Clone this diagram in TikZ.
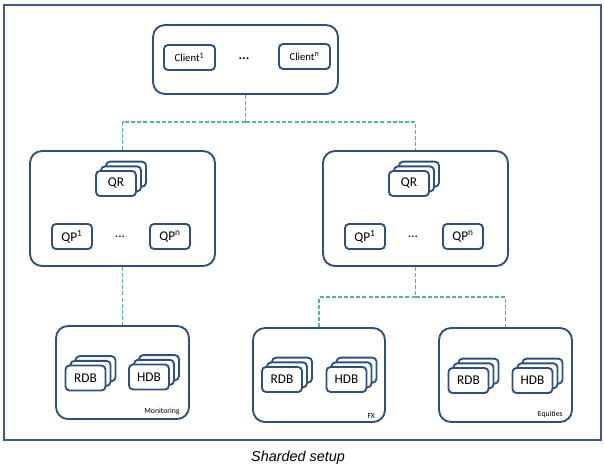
\documentclass[tikz,border=0pt]{standalone}
\usepackage{fontspec}
\setmainfont{Carlito}
\newfontfamily\capfont{Liberation Sans}
\usepackage{tikz}
\usetikzlibrary{shadows, positioning}
\definecolor{boxblue}{RGB}{47,80,125}
\definecolor{framecol}{RGB}{62,90,132}
\definecolor{linkgreen}{RGB}{84,186,140}
\tikzset{
    group/.style={rectangle, rounded corners=9pt, draw=boxblue, line width=1.4pt, fill=white},
    unit/.style={rectangle, rounded corners=3pt, draw=boxblue, line width=1.4pt, fill=white, minimum width=30pt, minimum height=18.75pt, inner sep=0pt, font=\fontsize{10}{11}\selectfont},
    stack/.style={unit,
        copy shadow={shadow xshift=7.5pt, shadow yshift=7pt, draw=boxblue, fill=white, line width=1.4pt},
        copy shadow={shadow xshift=3.75pt, shadow yshift=3.5pt, draw=boxblue, fill=white, line width=1.4pt}},
    client/.style={unit, minimum width=38.25pt, font=\fontsize{8}{9}\selectfont},
    dots/.style={font=\fontsize{10}{11}\selectfont, inner sep=0pt},
    tag/.style={font=\fontsize{5.8}{6}\selectfont, inner sep=0pt},
    link/.style={draw=linkgreen, line width=0.9pt, dash pattern=on 3pt off 1.6pt}
}

\begin{document}
\begin{tikzpicture}[x=0.75pt, y=-0.75pt]
            \useasboundingbox (0,0) rectangle (604,469);
            \draw[framecol, line width=1.5pt] (4,5) rectangle (601,440);

            \node (clients) [group, minimum width=138.75pt, minimum height=51.75pt] at (245.5,59.5) {};
            \node (cl1) [client] at (189.5,57.5) {Client\textsuperscript{1}};
            \node (cln) [client] at (304.5,56.5) {Client\textsuperscript{n}};
            \node (cdots) [dots] at (244,59) {\textbf{...}};

            \node (shardl) [group, minimum width=138.75pt, minimum height=86.25pt] at (122.5,208.5) {};
            \node (qrl) [stack] at (116,183.5) {QR};
            \node (qpl1) [unit] at (72,236.5) {QP\textsuperscript{1}};
            \node (qpln) [unit] at (170,236.5) {QP\textsuperscript{n}};
            \node (qpldots) [dots] at (120,237) {...};

            \node (shardr) [group, minimum width=138.75pt, minimum height=86.25pt] at (415.5,208.5) {};
            \node (qrr) [stack] at (409,183.5) {QR};
            \node (qpr1) [unit] at (365,236.5) {QP\textsuperscript{1}};
            \node (qprn) [unit] at (463,236.5) {QP\textsuperscript{n}};
            \node (qprdots) [dots] at (413,237) {...};

            \node (mon) [group, minimum width=99.75pt, minimum height=69.75pt] at (122.5,372.5) {};
            \node (monrdb) [stack] at (85.5,378) {RDB};
            \node (monhdb) [stack] at (149,377) {HDB};
            \node (montag) [tag, above left=3.5pt and 7.5pt of mon.south east] {Monitoring};

            \node (fx) [group, minimum width=99pt, minimum height=70.5pt] at (319,375) {};
            \node (fxrdb) [stack] at (282,379.5) {RDB};
            \node (fxhdb) [stack] at (346.5,379.5) {HDB};
            \node (fxtag) [tag, above left=3.5pt and 8pt of fx.south east] {FX};

            \node (eq) [group, minimum width=99.75pt, minimum height=70.5pt] at (505.5,375) {};
            \node (eqrdb) [stack] at (468.5,380.5) {RDB};
            \node (eqhdb) [stack] at (532.5,380.5) {HDB};
            \node (eqtag) [tag, above left=3.5pt and 7.5pt of eq.south east] {Equities};

            \coordinate (split) at (245.5,122);
            \coordinate (fork) at (415.5,297);

            \draw[link] (clients.south) -- (split);
            \draw[link] (split) -| (shardl.north);
            \draw[link] (split) -| (shardr.north);
            \draw[link] (shardl.south) -- (mon.north);
            \draw[link] (shardr.south) -- (fork);
            \draw[link] (fork) -| (fx.north);
            \draw[link] (fork) -| (eq.north);

            \node (caption) [font=\capfont\itshape\fontsize{10.8}{12}\selectfont] at (298,458) {Sharded setup};
        \end{tikzpicture}
\end{document}
